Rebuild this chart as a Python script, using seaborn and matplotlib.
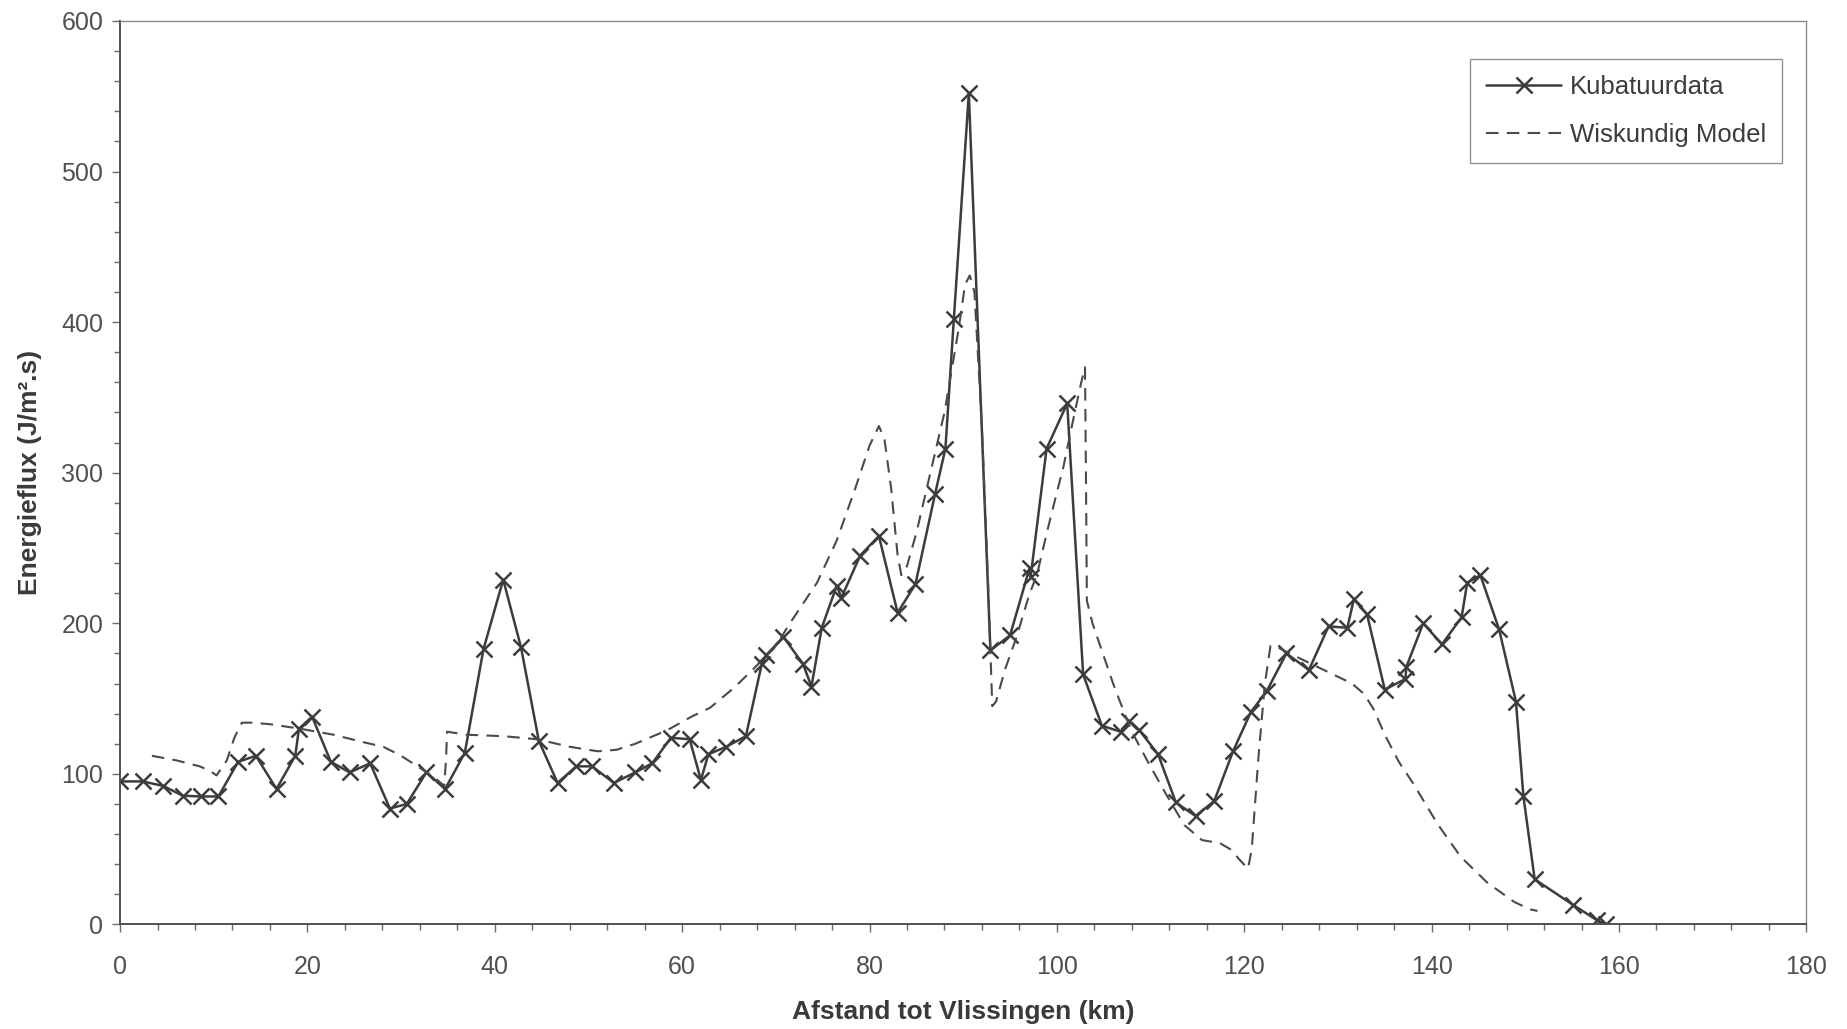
import matplotlib
matplotlib.use("Agg")
import matplotlib.pyplot as plt
from matplotlib.ticker import MultipleLocator
import seaborn as sns
import pandas as pd

# Measured energy flux along the estuary (cubature data)
kub_km = [0, 2.4, 4.6, 6.7, 8.6, 10.5, 12.6, 14.5, 16.7, 18.7, 19.1, 20.5,
          22.5, 24.5, 26.7, 28.8, 30.6, 32.7, 34.7, 36.8, 38.8, 40.9, 42.8,
          44.7, 46.7, 48.7, 50.4, 52.7, 55.0, 56.8, 58.8, 60.8, 62.0, 62.8,
          64.7, 66.8, 68.5, 69.0, 70.8, 72.9, 73.8, 74.9, 76.5, 77.0, 79.0,
          81.0, 83.0, 84.9, 87.0, 88.1, 89.0, 90.6, 92.9, 95.0, 97.1, 97.2,
          98.9, 101.1, 102.8, 104.8, 106.8, 107.7, 108.8, 110.8, 112.7, 114.8,
          116.8, 118.8, 120.7, 122.4, 124.5, 126.9, 129.0, 131.0, 131.7, 133.1,
          135.0, 137.2, 137.3, 139.1, 141.1, 143.2, 143.8, 145.2, 147.2, 149.0,
          149.8, 151.0, 155.1, 157.6, 158.6]
kub_flux = [95, 95, 92, 85.5, 85, 85, 108, 112, 90, 112, 130, 138,
            108, 101, 107, 77, 80, 101, 90, 114, 183, 229, 184,
            122, 94, 105, 105, 94, 101, 107, 124, 123, 96, 113,
            118, 125, 173, 179, 191, 173, 158, 197, 225, 217, 245,
            258, 207, 226, 286, 316, 402, 552, 182, 192, 237, 231,
            316, 346, 166, 132, 128, 135, 129, 113, 81, 72,
            82, 115, 141, 155, 180, 169, 198, 197, 216, 206,
            156, 163, 171, 200, 186, 204, 227, 232, 196, 148,
            85, 30, 13, 3, 0]

# Mathematical model result
model_km = [3.4, 6, 8.5, 9.6, 10.3, 11.4, 12.2, 13.0, 14, 16, 19.2, 22.8,
            26, 28.1, 30, 32.0, 33.5, 34.6, 34.8, 34.9, 37, 41, 44.5, 48,
            51, 53, 55, 58.4, 61, 63, 65.5, 67.5, 70, 71.5, 74.4, 76.5,
            78.5, 80.0, 81.0, 81.6, 82.3, 83.0, 83.4, 84.0, 85, 86.5, 88,
            89.5, 90.2, 90.7, 91.2, 92.0, 92.7, 93.1, 93.5, 94.5, 95.7,
            97.0, 97.9, 99.0, 100.0, 100.7, 101.8, 102.6, 103.0, 103.1,
            103.2, 103.8, 104.9, 106, 107.1, 108, 109.8, 111.7, 113.6,
            115.5, 117.4, 118.5, 119.5, 120.4, 120.8, 121.5, 122.2, 122.8,
            123.6, 125.5, 127.5, 129.5, 131.5, 132.8, 133.8, 135.0, 136.5,
            138.1, 140.6, 143.1, 145.9, 148.8, 150.5, 151.3]
model_flux = [112, 109, 105, 102, 99, 109, 124, 134, 134, 133, 130, 126,
              121, 118, 112, 104, 98, 92, 110, 128, 126, 125, 123, 118,
              115, 116, 120, 129, 138, 144, 157, 169, 185, 200, 227, 255,
              290, 318, 331, 322, 290, 245, 232, 238, 260, 300, 340,
              395, 425, 431, 420, 330, 220, 145, 148, 170, 191,
              218, 233, 262, 287, 304, 337, 360, 370, 300,
              215, 200, 180, 160, 142, 128, 107, 86, 66,
              56, 54, 50, 43, 37, 50, 110, 160, 185,
              184, 178, 172, 166, 160, 153, 143, 126, 108,
              93, 67, 45, 28, 15, 10, 9]

x_ticks = list(range(0, 181, 20))
y_ticks = list(range(0, 601, 100))

kub = pd.DataFrame({"km": kub_km, "flux": kub_flux})
model = pd.DataFrame({"km": model_km, "flux": model_flux})

sns.set_theme(style="white")
plt.rcParams["font.family"] = ["Liberation Sans", "DejaVu Sans"]

fig = plt.figure(figsize=(18.47, 10.29), dpi=100)
ax = fig.add_axes([0.065, 0.1016, 0.913, 0.878])

sns.lineplot(data=kub, x="km", y="flux", ax=ax, sort=False, estimator=None,
             color="#3c3c3c", linewidth=1.8, marker="x", markersize=11,
             markeredgewidth=1.8, markeredgecolor="#3c3c3c",
             label="Kubatuurdata")
sns.lineplot(data=model, x="km", y="flux", ax=ax, sort=False, estimator=None,
             color="#4a4a4a", linewidth=1.5, dashes=False,
             label="Wiskundig Model")
ax.lines[1].set_linestyle((0, (6, 4)))

ax.set_xlim(0, 180)
ax.set_ylim(0, 600)
ax.set_xticks(x_ticks)
ax.set_yticks(y_ticks)
ax.xaxis.set_minor_locator(MultipleLocator(4))
ax.yaxis.set_minor_locator(MultipleLocator(20))
ax.tick_params(axis="both", which="both", direction="out", colors="#6a6a6a",
               labelcolor="#505050", labelsize=18, width=1)
ax.tick_params(axis="both", which="major", length=6)
ax.tick_params(axis="both", which="minor", length=4)
ax.tick_params(axis="x", which="major", pad=16)
ax.tick_params(axis="y", which="major", pad=6)
ax.tick_params(axis="x", which="both", bottom=True)
ax.tick_params(axis="y", which="both", left=True)

for side in ("left", "bottom"):
    ax.spines[side].set_color("#505050")
    ax.spines[side].set_linewidth(1.4)
for side in ("top", "right"):
    ax.spines[side].set_color("#8a8a8a")
    ax.spines[side].set_linewidth(1.0)

ax.set_xlabel("Afstand tot Vlissingen (km)", fontsize=19, fontweight="bold",
              color="#3a3a3a", labelpad=15)
ax.set_ylabel("Energieflux (J/m².s)", fontsize=19, fontweight="bold",
              color="#3a3a3a", labelpad=14)

leg = ax.legend(loc="upper right", bbox_to_anchor=(0.9648, 0.9427),
                bbox_transform=fig.transFigure, borderaxespad=0,
                fontsize=18.5, frameon=True, fancybox=False, handlelength=2.9,
                handletextpad=0.35, labelspacing=0.95, borderpad=0.62)
leg.get_frame().set_edgecolor("#777777")
leg.get_frame().set_linewidth(1.0)
for t in leg.get_texts():
    t.set_color("#3c3c3c")

fig.savefig("out.png", dpi=100, facecolor="white")
